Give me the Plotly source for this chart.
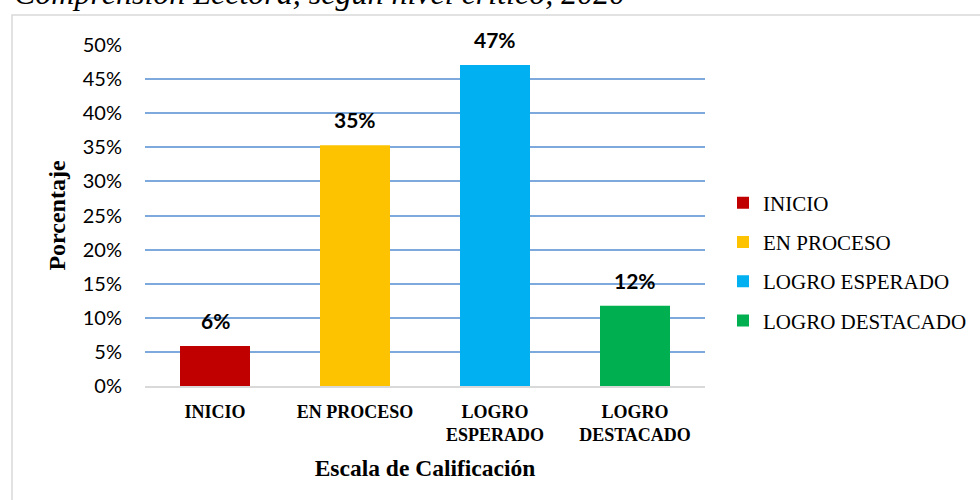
import plotly.graph_objects as go

categories = ["INICIO", "EN PROCESO", "LOGRO ESPERADO", "LOGRO DESTACADO"]
tick_labels = ["<b>INICIO</b>", "<b>EN PROCESO</b>", "<b>LOGRO<br>ESPERADO</b>", "<b>LOGRO<br>DESTACADO</b>"]
values = [0.0588, 0.3529, 0.4706, 0.1176]
value_labels = ["6%", "35%", "47%", "12%"]
colors = ["#C00000", "#FDC300", "#00B0F0", "#00B050"]
y_ticks = [0, 0.05, 0.10, 0.15, 0.20, 0.25, 0.30, 0.35, 0.40, 0.45, 0.50]

L, R, T, B = 145, 275, 45, 114
W, H = 980, 500
pw, ph = W - L - R, H - T - B

fig = go.Figure()
for i, (c, v, col) in enumerate(zip(categories, values, colors)):
    fig.add_trace(go.Bar(
        x=[categories[i]], y=[v], name=c, marker=dict(color=col, line=dict(width=0)),
        legendgroup=c, hoverinfo="skip",
    ))

for i, v in enumerate(values):
    fig.add_annotation(
        x=categories[i], y=v, text="<b>" + value_labels[i] + "</b>", showarrow=False,
        yanchor="bottom", yshift=11, font=dict(family="Lato", size=21, color="#000000"),
    )

# outer frame
fig.add_shape(type="rect", xref="paper", yref="paper",
              x0=(12 - L) / pw, x1=2.0, y0=-1.0, y1=(H - B - 15) / ph,
              line=dict(color="#D9D9D9", width=1.5), fillcolor="rgba(0,0,0,0)", layer="below")

# clipped title at top
fig.add_annotation(
    xref="paper", yref="paper", x=(12 - L) / pw, y=(H - B - 13) / ph,
    xanchor="left", yanchor="bottom", showarrow=False,
    text="<i>Comprensión Lectora, según nivel crítico, 2020</i>",
    font=dict(family="Liberation Serif", size=32, color="#000000"),
)

fig.update_layout(
    width=W, height=H,
    margin=dict(l=L, r=R, t=T, b=B, autoexpand=False),
    paper_bgcolor="white", plot_bgcolor="white",
    barmode="overlay", bargap=0.5,
    showlegend=True,
    legend=dict(
        x=(723 - L) / pw, xanchor="left", xref="paper", y=(H - B - 262) / ph, yanchor="middle",
        font=dict(family="Liberation Serif", size=21, color="#000000"),
        traceorder="grouped", tracegroupgap=9, itemwidth=30,
        bgcolor="rgba(0,0,0,0)",
    ),
    xaxis=dict(
        categoryorder="array", categoryarray=categories,
        tickvals=categories, ticktext=tick_labels,
        showgrid=False, showline=True, linecolor="#D9D9D9", linewidth=2,
        ticks="", ticklabelstandoff=8,
        tickfont=dict(family="Liberation Serif", size=18, color="#000000"),
        title=dict(text="<b>Escala de Calificación</b>", standoff=16,
                   font=dict(family="Liberation Serif", size=23.5, color="#000000")),
        fixedrange=True,
    ),
    yaxis=dict(
        range=[0, 0.5], tickvals=y_ticks, tickformat=".0%",
        showgrid=True, gridcolor="#7DA9DC", gridwidth=1.5,
        zeroline=False, showline=False, ticks="", ticklabelstandoff=22,
        tickfont=dict(family="Lato", size=20, color="#000000"),
        title=dict(text="<b>Porcentaje</b>", standoff=10,
                   font=dict(family="Liberation Serif", size=24, color="#000000")),
        fixedrange=True,
    ),
)

fig.write_html("out.html")
